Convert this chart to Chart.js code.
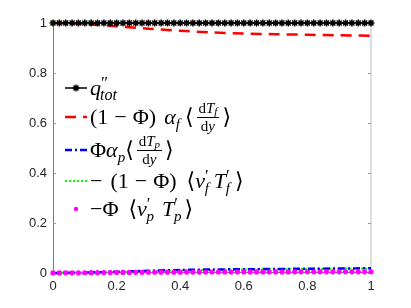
<!DOCTYPE html>
<html>
<head>
<meta charset="utf-8">
<script src="https://cdn.jsdelivr.net/npm/chart.js@4/dist/chart.umd.min.js"></script>
<style>
  html, body { margin: 0; padding: 0; background: #fff; }
  #wrap { position: relative; width: 411px; height: 308px; }
  #legend { position: absolute; left: 0; top: 0; width: 411px; height: 308px; pointer-events: none;
    font-family: "Liberation Serif", "DejaVu Serif", serif; font-size: 22px; color: #000; }
  .row { position: absolute; left: 90px; height: 30px; line-height: 30px; white-space: nowrap; }
  .row i { font-style: italic; }
  .op { margin: 0 6px; }
  .g3 { margin-left: 3px; }
  .g5 { margin-left: 5px; }
  .g8 { margin-left: 8px; }
  .g10 { margin-left: 10px; }
  .sb { font-size: 15px; position: relative; top: 5px; }
  .sp { font-size: 17px; position: relative; top: -7px; }
  .frac { display: inline-block; vertical-align: middle; text-align: center; font-size: 15px; line-height: 14px; margin: 0 3px; position: relative; top: -2px; }
  .frac .num { display: block; border-bottom: 0.8px solid #000; padding: 0 2px 1px; }
  .frac .den { display: block; padding-top: 1px; }
  .frac .sb { font-size: 11px; top: 2px; }
</style>
</head>
<body>
<div id="wrap">
  <canvas id="myChart" width="411" height="308"></canvas>
  <div id="legend">
    <div class="row" style="top:73px"><i>q</i><span class="sp">&Prime;</span><span class="sb" style="margin-left:-8px;font-size:16px"><i>tot</i></span></div>
    <div class="row" style="top:102px">(1<span class="op">&minus;</span>&Phi;)<span class="g8"></span><i>&alpha;</i><span class="sb"><i>f</i></span><span class="g5"></span>&lang;<span class="frac"><span class="num">d<i>T</i><span class="sb"><i>f</i></span></span><span class="den">d<i>y</i></span></span>&rang;</div>
    <div class="row" style="top:135px">&Phi;<i>&alpha;</i><span class="sb"><i>p</i></span>&lang;<span class="frac"><span class="num">d<i>T</i><span class="sb"><i>p</i></span></span><span class="den">d<i>y</i></span></span>&rang;</div>
    <div class="row" style="top:166px">&minus;<span class="g8"></span>(1<span class="op">&minus;</span>&Phi;)<span class="g10"></span>&lang;<i>v</i><span class="sp">&prime;</span><span class="sb" style="margin-left:-4px"><i>f</i></span><span class="g5"></span><i>T</i><span class="sp">&prime;</span><span class="sb" style="margin-left:-4px"><i>f</i></span><span class="g5"></span>&rang;</div>
    <div class="row" style="top:194px">&minus;&Phi;<span class="g10"></span>&lang;<i>v</i><span class="sp">&prime;</span><span class="sb" style="margin-left:-4px"><i>p</i></span><span class="g8"></span><i>T</i><span class="sp">&prime;</span><span class="sb" style="margin-left:-4px"><i>p</i></span><span class="g3"></span>&rang;</div>
  </div>
</div>
<script>
// sample positions along the channel
const xFine = [0, 0.02, 0.04, 0.06, 0.08, 0.1, 0.12, 0.14, 0.16, 0.18,
  0.2, 0.22, 0.24, 0.26, 0.28, 0.3, 0.32, 0.34, 0.36, 0.38,
  0.4, 0.42, 0.44, 0.46, 0.48, 0.5, 0.52, 0.54, 0.56, 0.58,
  0.6, 0.62, 0.64, 0.66, 0.68, 0.7, 0.72, 0.74, 0.76, 0.78,
  0.8, 0.82, 0.84, 0.86, 0.88, 0.9, 0.92, 0.94, 0.96, 0.98, 1];
const xCoarse = [0, 0.1, 0.2, 0.3, 0.4, 0.5, 0.6, 0.7, 0.8, 0.9, 1];

const qTot = [1, 1, 1, 1, 1, 1, 1, 1, 1, 1,
  1, 1, 1, 1, 1, 1, 1, 1, 1, 1,
  1, 1, 1, 1, 1, 1, 1, 1, 1, 1,
  1, 1, 1, 1, 1, 1, 1, 1, 1, 1,
  1, 1, 1, 1, 1, 1, 1, 1, 1, 1, 1];
const fluidCond = [1.0, 0.996, 0.987, 0.977, 0.969, 0.962, 0.958, 0.955, 0.953, 0.951, 0.949];
const partCond = [0, 0.002, 0.005, 0.009, 0.012, 0.014, 0.015, 0.016, 0.017, 0.018, 0.019];
const fluidTurb = [0, 0.001, 0.004, 0.007, 0.010, 0.012, 0.014, 0.015, 0.016, 0.017, 0.018];
const partTurb = [0.0005, 0.0005, 0.0006, 0.0007, 0.0008, 0.001, 0.0012, 0.0014, 0.0016, 0.0018,
  0.002, 0.0022, 0.0024, 0.0026, 0.0028, 0.003, 0.0031, 0.0032, 0.0033, 0.0034,
  0.0035, 0.0036, 0.0037, 0.0038, 0.0039, 0.004, 0.004, 0.0041, 0.0041, 0.0042,
  0.0042, 0.0043, 0.0043, 0.0044, 0.0044, 0.0045, 0.0045, 0.0045, 0.0046, 0.0046,
  0.0046, 0.0047, 0.0047, 0.0047, 0.0048, 0.0048, 0.0048, 0.0049, 0.0049, 0.0049, 0.005];
const ticks = [0, 0.2, 0.4, 0.6, 0.8, 1];

function pts(xs, ys) { return xs.map((x, i) => ({x: x, y: ys[i]})); }

const axisColor = '#262626';

// box, inward ticks and hand-made legend samples
const framePlugin = {
  id: 'frame',
  beforeDatasetsDraw(chart) {
    const {ctx, chartArea: a, scales} = chart;
    ctx.save();
    ctx.lineWidth = 1;
    ctx.strokeStyle = '#bdbdbd';
    ctx.beginPath();
    ctx.moveTo(a.left, a.top); ctx.lineTo(a.right, a.top); ctx.lineTo(a.right, a.bottom);
    ctx.stroke();
    ctx.strokeStyle = '#7a7a7a';
    ctx.beginPath();
    ctx.moveTo(a.left + 0.5, a.top); ctx.lineTo(a.left + 0.5, a.bottom);
    ctx.moveTo(a.left, a.bottom - 0.5); ctx.lineTo(a.right, a.bottom - 0.5);
    ctx.stroke();
    ctx.strokeStyle = '#9a9a9a';
    ctx.beginPath();
    ticks.forEach(t => {
      const y = Math.round(scales.y.getPixelForValue(t)) + 0.5;
      ctx.moveTo(a.left, y); ctx.lineTo(a.left + 3, y);
      ctx.moveTo(a.right, y); ctx.lineTo(a.right - 3, y);
      const x = Math.round(scales.x.getPixelForValue(t)) + 0.5;
      ctx.moveTo(x, a.bottom); ctx.lineTo(x, a.bottom - 3);
      ctx.moveTo(x, a.top); ctx.lineTo(x, a.top + 3);
    });
    ctx.stroke();
    ctx.restore();
  },
  afterDraw(chart) {
    const ctx = chart.ctx;
    const rows = [88, 117, 150, 181, 209];
    chart.data.datasets.forEach((ds, i) => {
      const y = rows[i];
      ctx.save();
      if (ds.showLine !== false) {
        ctx.strokeStyle = ds.borderColor;
        ctx.lineWidth = ds.borderWidth;
        ctx.setLineDash(ds.borderDash || []);
        ctx.beginPath();
        ctx.moveTo(65, y); ctx.lineTo(87, y);
        ctx.stroke();
      }
      if (ds.pointRadius > 0) {
        ctx.setLineDash([]);
        ctx.fillStyle = ds.pointBackgroundColor;
        ctx.strokeStyle = ds.pointBorderColor;
        ctx.lineWidth = ds.pointBorderWidth || 1;
        if (ds.pointStyle === 'circle') {
          ctx.beginPath();
          ctx.arc(76, y, 2.2, 0, Math.PI * 2);
          ctx.fill();
        } else {
          Chart.helpers.drawPoint(ctx, {pointStyle: ds.pointStyle, radius: ds.pointRadius, borderWidth: ds.pointBorderWidth}, 76, y);
        }
      }
      ctx.restore();
    });
  }
};

const ctx = document.getElementById('myChart').getContext('2d');
const myChart = new Chart(ctx, {
  type: 'line',
  data: {
    datasets: [
      {
        data: pts(xFine, qTot), borderColor: '#000', borderWidth: 1.5,
        pointStyle: 'star', pointRadius: 3.5, pointBorderWidth: 1.5,
        pointBorderColor: '#000', pointBackgroundColor: '#000', order: 0, clip: false
      },
      {
        data: pts(xCoarse, fluidCond), borderColor: '#ff0000', borderWidth: 2.5,
        borderDash: [11, 7], pointRadius: 0, tension: 0.3, order: 2, clip: false
      },
      {
        data: pts(xCoarse, partCond), borderColor: '#0000ff', borderWidth: 2.5,
        borderDash: [7, 3, 2, 3], pointRadius: 0, tension: 0.3, order: 3, clip: false
      },
      {
        data: pts(xCoarse, fluidTurb), borderColor: '#00ff00', borderWidth: 2.2,
        borderDash: [2, 2], pointRadius: 0, tension: 0.3, order: 4, clip: false
      },
      {
        data: pts(xFine, partTurb), showLine: false, borderColor: '#ff00ff',
        pointStyle: 'circle', pointRadius: 2.6, pointBorderWidth: 0,
        pointBorderColor: '#ff00ff', pointBackgroundColor: '#ff00ff', order: 1, clip: false
      }
    ]
  },
  options: {
    responsive: false,
    animation: false,
    layout: { padding: { left: 0, top: 23, right: 40, bottom: 0 } },
    plugins: { legend: { display: false }, tooltip: { enabled: false } },
    scales: {
      x: {
        type: 'linear', min: 0, max: 1,
        grid: { display: false, drawTicks: false },
        border: { display: false },
        afterFit: s => { s.height = 35; },
        afterBuildTicks: s => { s.ticks = ticks.map(v => ({value: v})); },
        ticks: {
          color: axisColor, padding: 6, maxRotation: 0,
          font: { family: 'Liberation Sans', size: 13 },
          callback: v => String(v)
        }
      },
      y: {
        type: 'linear', min: 0, max: 1,
        grid: { display: false, drawTicks: false },
        border: { display: false },
        afterFit: s => { s.width = 53; },
        afterBuildTicks: s => { s.ticks = ticks.map(v => ({value: v})); },
        ticks: {
          color: axisColor, padding: 6,
          font: { family: 'Liberation Sans', size: 13 },
          callback: v => String(v)
        }
      }
    }
  },
  plugins: [framePlugin]
});
</script>
</body>
</html>
